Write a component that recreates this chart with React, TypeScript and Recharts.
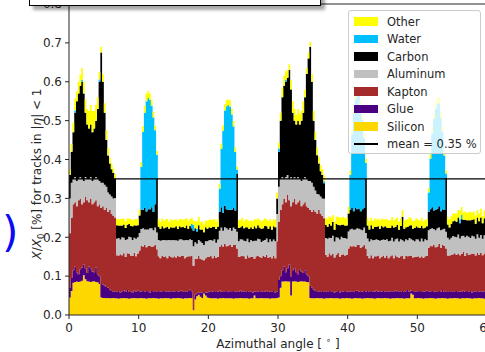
import { AreaChart, Area, XAxis, YAxis, ReferenceLine } from 'recharts'

// material budget per 0.25 degree bin, X/X0 in %, each array holds one layer's thickness
const BIN_WIDTH = 0.25
const X_TICKS = [0, 10, 20, 30, 40, 50, 60]
const Y_TICKS = [0, 0.1, 0.2, 0.3, 0.4, 0.5, 0.6, 0.7, 0.8]
const MEAN = 0.35

const SILICON = [
  0.045, 0.062, 0.083, 0.085, 0.086, 0.085, 0.086, 0.088, 0.102, 0.092, 0.087, 0.086, 0.085, 0.086, 0.087, 0.085, 0.084, 0.080, 0.045, 0.044,
  0.044, 0.043, 0.044, 0.043, 0.043, 0.044, 0.043, 0.043, 0.042, 0.043, 0.043, 0.044, 0.043, 0.043, 0.042, 0.043, 0.043, 0.044, 0.043, 0.043,
  0.043, 0.044, 0.043, 0.043, 0.042, 0.043, 0.043, 0.043, 0.044, 0.043, 0.043, 0.042, 0.043, 0.043, 0.043, 0.044, 0.043, 0.043, 0.042, 0.043,
  0.043, 0.043, 0.044, 0.043, 0.043, 0.042, 0.043, 0.043, 0.043, 0.044, 0.043, 0.012, 0.040, 0.048, 0.052, 0.047, 0.044, 0.055, 0.050, 0.045,
  0.044, 0.043, 0.043, 0.043, 0.043, 0.042, 0.043, 0.043, 0.044, 0.043, 0.043, 0.043, 0.043, 0.043, 0.042, 0.043, 0.043, 0.043, 0.044, 0.043,
  0.043, 0.043, 0.043, 0.042, 0.043, 0.043, 0.050, 0.043, 0.043, 0.043, 0.044, 0.043, 0.043, 0.043, 0.043, 0.042, 0.043, 0.043, 0.043, 0.044,
  0.045, 0.070, 0.086, 0.086, 0.087, 0.086, 0.086, 0.050, 0.086, 0.087, 0.086, 0.085, 0.086, 0.087, 0.086, 0.086, 0.085, 0.084, 0.044, 0.043,
  0.043, 0.043, 0.044, 0.043, 0.043, 0.043, 0.042, 0.043, 0.043, 0.043, 0.044, 0.043, 0.043, 0.043, 0.043, 0.042, 0.043, 0.043, 0.043, 0.044,
  0.043, 0.043, 0.042, 0.043, 0.044, 0.043, 0.043, 0.043, 0.042, 0.043, 0.043, 0.044, 0.043, 0.043, 0.043, 0.042, 0.043, 0.044, 0.043, 0.043,
  0.043, 0.044, 0.043, 0.043, 0.042, 0.043, 0.043, 0.043, 0.044, 0.043, 0.043, 0.043, 0.042, 0.043, 0.043, 0.043, 0.055, 0.052, 0.043, 0.043,
  0.044, 0.043, 0.043, 0.042, 0.043, 0.043, 0.043, 0.044, 0.043, 0.043, 0.042, 0.043, 0.043, 0.043, 0.044, 0.043, 0.043, 0.042, 0.043, 0.043,
  0.043, 0.044, 0.043, 0.043, 0.042, 0.043, 0.043, 0.043, 0.044, 0.043, 0.043, 0.042, 0.043, 0.043, 0.043, 0.044, 0.043, 0.043, 0.042, 0.043,
]

const GLUE = [
  0.025, 0.033, 0.032, 0.040, 0.024, 0.020, 0.032, 0.034, 0.028, 0.028, 0.021, 0.039, 0.035, 0.026, 0.023, 0.037, 0.021, 0.020, 0.035, 0.034,
  0.032, 0.029, 0.026, 0.022, 0.019, 0.016, 0.018, 0.017, 0.020, 0.015, 0.018, 0.019, 0.016, 0.021, 0.017, 0.018, 0.015, 0.019, 0.017, 0.020,
  0.018, 0.016, 0.019, 0.017, 0.020, 0.018, 0.015, 0.019, 0.017, 0.018, 0.016, 0.020, 0.017, 0.018, 0.019, 0.016, 0.018, 0.017, 0.019, 0.018,
  0.017, 0.019, 0.016, 0.018, 0.020, 0.017, 0.018, 0.016, 0.019, 0.021, 0.018, 0.000, 0.012, 0.008, 0.006, 0.010, 0.014, 0.004, 0.008, 0.013,
  0.016, 0.018, 0.017, 0.019, 0.016, 0.018, 0.020, 0.017, 0.015, 0.018, 0.019, 0.017, 0.016, 0.018, 0.020, 0.017, 0.018, 0.016, 0.019, 0.017,
  0.018, 0.016, 0.019, 0.017, 0.018, 0.015, 0.010, 0.018, 0.017, 0.019, 0.016, 0.018, 0.017, 0.020, 0.016, 0.018, 0.017, 0.019, 0.015, 0.016,
  0.045, 0.030, 0.029, 0.039, 0.023, 0.034, 0.044, 0.050, 0.029, 0.033, 0.024, 0.020, 0.032, 0.025, 0.022, 0.029, 0.020, 0.016, 0.031, 0.027,
  0.022, 0.019, 0.017, 0.018, 0.016, 0.019, 0.017, 0.018, 0.016, 0.019, 0.017, 0.018, 0.015, 0.017, 0.019, 0.016, 0.018, 0.017, 0.019, 0.016,
  0.018, 0.017, 0.019, 0.016, 0.018, 0.020, 0.017, 0.016, 0.018, 0.019, 0.017, 0.018, 0.016, 0.019, 0.017, 0.018, 0.020, 0.016, 0.018, 0.017,
  0.019, 0.016, 0.018, 0.017, 0.019, 0.018, 0.016, 0.020, 0.017, 0.018, 0.016, 0.019, 0.017, 0.018, 0.021, 0.017, 0.008, 0.010, 0.016, 0.018,
  0.017, 0.019, 0.016, 0.018, 0.017, 0.020, 0.018, 0.016, 0.019, 0.017, 0.018, 0.016, 0.019, 0.017, 0.020, 0.016, 0.018, 0.017, 0.019, 0.016,
  0.018, 0.017, 0.019, 0.016, 0.018, 0.017, 0.020, 0.016, 0.018, 0.017, 0.019, 0.016, 0.018, 0.017, 0.019, 0.016, 0.018, 0.017, 0.019, 0.016,
]

const KAPTON = [
  0.140, 0.155, 0.170, 0.165, 0.170, 0.190, 0.182, 0.163, 0.160, 0.185, 0.187, 0.165, 0.180, 0.173, 0.180, 0.173, 0.175, 0.185, 0.195, 0.202,
  0.194, 0.203, 0.195, 0.205, 0.198, 0.195, 0.190, 0.094, 0.091, 0.098, 0.093, 0.096, 0.090, 0.095, 0.099, 0.092, 0.094, 0.097, 0.091, 0.095,
  0.105, 0.118, 0.114, 0.120, 0.112, 0.117, 0.121, 0.113, 0.116, 0.119, 0.110, 0.089, 0.086, 0.092, 0.087, 0.091, 0.085, 0.093, 0.088, 0.087,
  0.091, 0.086, 0.092, 0.088, 0.090, 0.093, 0.085, 0.091, 0.089, 0.086, 0.092, 0.115, 0.092, 0.089, 0.094, 0.087, 0.085, 0.082, 0.088, 0.091,
  0.089, 0.092, 0.086, 0.091, 0.088, 0.090, 0.112, 0.120, 0.117, 0.122, 0.115, 0.119, 0.121, 0.114, 0.118, 0.120, 0.110, 0.091, 0.088, 0.092,
  0.090, 0.086, 0.092, 0.089, 0.088, 0.091, 0.085, 0.090, 0.093, 0.088, 0.087, 0.091, 0.089, 0.092, 0.088, 0.090, 0.086, 0.091, 0.088, 0.130,
  0.150, 0.170, 0.170, 0.175, 0.180, 0.190, 0.165, 0.180, 0.175, 0.180, 0.175, 0.185, 0.177, 0.168, 0.177, 0.175, 0.175, 0.175, 0.195, 0.195,
  0.205, 0.203, 0.200, 0.209, 0.201, 0.193, 0.190, 0.094, 0.091, 0.097, 0.093, 0.096, 0.090, 0.095, 0.098, 0.092, 0.094, 0.096, 0.091, 0.095,
  0.110, 0.118, 0.115, 0.120, 0.113, 0.117, 0.121, 0.114, 0.116, 0.119, 0.111, 0.090, 0.087, 0.092, 0.086, 0.091, 0.088, 0.093, 0.085, 0.090,
  0.091, 0.087, 0.092, 0.086, 0.090, 0.093, 0.087, 0.091, 0.089, 0.086, 0.092, 0.090, 0.085, 0.091, 0.087, 0.092, 0.090, 0.086, 0.091, 0.089,
  0.090, 0.086, 0.092, 0.087, 0.091, 0.089, 0.112, 0.118, 0.115, 0.120, 0.114, 0.117, 0.121, 0.113, 0.116, 0.119, 0.110, 0.094, 0.091, 0.096,
  0.095, 0.098, 0.093, 0.099, 0.094, 0.097, 0.100, 0.093, 0.098, 0.095, 0.094, 0.099, 0.096, 0.093, 0.098, 0.095, 0.099, 0.094, 0.097, 0.093,
]

const ALUMINUM = [
  0.090, 0.090, 0.065, 0.065, 0.065, 0.055, 0.055, 0.065, 0.055, 0.050, 0.055, 0.060, 0.055, 0.060, 0.060, 0.060, 0.070, 0.060, 0.065, 0.060,
  0.065, 0.055, 0.050, 0.040, 0.045, 0.045, 0.050, 0.042, 0.045, 0.038, 0.046, 0.040, 0.044, 0.036, 0.043, 0.047, 0.041, 0.039, 0.045, 0.042,
  0.045, 0.043, 0.047, 0.040, 0.046, 0.042, 0.044, 0.048, 0.041, 0.045, 0.043, 0.042, 0.045, 0.039, 0.044, 0.041, 0.046, 0.040, 0.043, 0.045,
  0.041, 0.044, 0.039, 0.045, 0.042, 0.040, 0.046, 0.043, 0.041, 0.044, 0.040, 0.050, 0.043, 0.038, 0.041, 0.045, 0.042, 0.039, 0.044, 0.041,
  0.043, 0.040, 0.045, 0.042, 0.039, 0.044, 0.042, 0.045, 0.041, 0.043, 0.046, 0.040, 0.044, 0.042, 0.045, 0.041, 0.043, 0.040, 0.044, 0.042,
  0.040, 0.045, 0.042, 0.039, 0.044, 0.041, 0.046, 0.040, 0.043, 0.045, 0.041, 0.039, 0.044, 0.042, 0.040, 0.045, 0.043, 0.041, 0.044, 0.070,
  0.090, 0.080, 0.070, 0.050, 0.065, 0.050, 0.055, 0.075, 0.060, 0.055, 0.065, 0.065, 0.055, 0.065, 0.065, 0.065, 0.070, 0.070, 0.075, 0.075,
  0.060, 0.055, 0.050, 0.040, 0.045, 0.045, 0.050, 0.043, 0.046, 0.040, 0.044, 0.047, 0.041, 0.045, 0.039, 0.044, 0.046, 0.042, 0.045, 0.041,
  0.044, 0.042, 0.046, 0.040, 0.045, 0.043, 0.041, 0.047, 0.042, 0.044, 0.040, 0.045, 0.043, 0.041, 0.046, 0.042, 0.044, 0.040, 0.045, 0.043,
  0.041, 0.046, 0.042, 0.044, 0.040, 0.045, 0.043, 0.041, 0.047, 0.042, 0.044, 0.040, 0.045, 0.043, 0.041, 0.046, 0.042, 0.044, 0.040, 0.045,
  0.043, 0.041, 0.046, 0.042, 0.044, 0.040, 0.045, 0.043, 0.046, 0.041, 0.044, 0.047, 0.042, 0.045, 0.040, 0.044, 0.043, 0.046, 0.041, 0.044,
  0.047, 0.042, 0.045, 0.049, 0.043, 0.046, 0.041, 0.048, 0.044, 0.046, 0.042, 0.047, 0.045, 0.043, 0.048, 0.044, 0.046, 0.042, 0.047, 0.045,
]

const CARBON = [
  0.060, 0.080, 0.120, 0.165, 0.205, 0.220, 0.235, 0.250, 0.225, 0.165, 0.140, 0.130, 0.135, 0.125, 0.130, 0.145, 0.180, 0.255, 0.335, 0.260,
  0.185, 0.120, 0.095, 0.080, 0.070, 0.065, 0.050, 0.035, 0.032, 0.036, 0.030, 0.034, 0.031, 0.037, 0.033, 0.029, 0.035, 0.032, 0.034, 0.031,
  0.045, 0.050, 0.048, 0.055, 0.046, 0.052, 0.049, 0.054, 0.047, 0.060, 0.140, 0.034, 0.031, 0.036, 0.030, 0.033, 0.035, 0.029, 0.034, 0.032,
  0.033, 0.036, 0.030, 0.034, 0.031, 0.035, 0.032, 0.037, 0.030, 0.034, 0.030, 0.040, 0.036, 0.032, 0.038, 0.031, 0.035, 0.033, 0.036, 0.032,
  0.034, 0.031, 0.036, 0.032, 0.035, 0.033, 0.048, 0.052, 0.046, 0.055, 0.049, 0.051, 0.047, 0.054, 0.050, 0.048, 0.150, 0.034, 0.031, 0.035,
  0.032, 0.036, 0.030, 0.034, 0.033, 0.031, 0.037, 0.032, 0.035, 0.030, 0.034, 0.032, 0.036, 0.031, 0.035, 0.033, 0.030, 0.034, 0.036, 0.040,
  0.090, 0.150, 0.205, 0.240, 0.245, 0.250, 0.280, 0.225, 0.170, 0.145, 0.140, 0.145, 0.140, 0.155, 0.170, 0.205, 0.270, 0.315, 0.345, 0.260,
  0.170, 0.130, 0.100, 0.080, 0.065, 0.060, 0.040, 0.034, 0.031, 0.036, 0.032, 0.035, 0.030, 0.034, 0.033, 0.037, 0.031, 0.035, 0.032, 0.034,
  0.046, 0.050, 0.053, 0.048, 0.055, 0.049, 0.052, 0.047, 0.054, 0.050, 0.140, 0.033, 0.031, 0.036, 0.030, 0.034, 0.032, 0.035, 0.031, 0.036,
  0.032, 0.035, 0.030, 0.034, 0.033, 0.031, 0.036, 0.032, 0.035, 0.030, 0.034, 0.060, 0.033, 0.031, 0.035, 0.032, 0.036, 0.030, 0.034, 0.033,
  0.031, 0.035, 0.032, 0.034, 0.030, 0.036, 0.047, 0.051, 0.054, 0.048, 0.053, 0.050, 0.055, 0.049, 0.052, 0.048, 0.140, 0.034, 0.031, 0.036,
  0.038, 0.042, 0.040, 0.044, 0.039, 0.043, 0.041, 0.045, 0.040, 0.043, 0.046, 0.041, 0.044, 0.039, 0.043, 0.042, 0.045, 0.040, 0.044, 0.041,
]

const WATER = [
  0, 0, 0, 0.006, 0, 0, 0, 0.005, 0, 0, 0, 0, 0, 0, 0, 0, 0, 0.006, 0, 0,
  0, 0, 0, 0, 0, 0, 0, 0, 0, 0, 0, 0, 0, 0, 0, 0, 0, 0, 0, 0,
  0, 0.110, 0.200, 0.245, 0.284, 0.286, 0.281, 0.261, 0.243, 0.190, 0.060, 0, 0, 0, 0, 0, 0, 0, 0, 0,
  0, 0, 0, 0, 0, 0, 0, 0, 0, 0, 0.012, 0.015, 0, 0.006, 0, 0, 0, 0, 0, 0,
  0, 0, 0, 0, 0, 0, 0.060, 0.150, 0.210, 0.245, 0.265, 0.270, 0.265, 0.245, 0.210, 0.150, 0.010, 0, 0, 0,
  0, 0, 0, 0, 0, 0, 0, 0, 0, 0, 0, 0, 0, 0, 0, 0, 0, 0, 0, 0,
  0.008, 0, 0, 0, 0.005, 0, 0, 0, 0, 0, 0, 0, 0, 0, 0, 0, 0, 0, 0, 0,
  0, 0, 0, 0, 0, 0, 0.005, 0, 0, 0, 0, 0, 0, 0, 0, 0, 0, 0, 0, 0,
  0, 0.090, 0.190, 0.250, 0.280, 0.295, 0.290, 0.270, 0.230, 0.180, 0.040, 0, 0, 0, 0, 0, 0, 0, 0, 0,
  0, 0, 0, 0, 0, 0, 0, 0, 0, 0, 0, 0, 0, 0, 0, 0, 0, 0, 0, 0,
  0, 0, 0, 0, 0, 0, 0.050, 0.130, 0.190, 0.235, 0.260, 0.270, 0.265, 0.240, 0.200, 0.140, 0.010, 0, 0, 0,
  0, 0, 0, 0, 0.010, 0.012, 0, 0, 0, 0, 0, 0, 0, 0, 0, 0, 0, 0, 0, 0,
]

const OTHER = [
  0.015, 0.020, 0.025, 0.030, 0.025, 0.030, 0.028, 0.030, 0.030, 0.035, 0.040, 0.045, 0.050, 0.055, 0.045, 0.040, 0.030, 0.020, 0.015, 0.020,
  0.025, 0.025, 0.020, 0.015, 0.015, 0.012, 0.012, 0.015, 0.017, 0.016, 0.018, 0.015, 0.017, 0.016, 0.014, 0.018, 0.016, 0.015, 0.017, 0.016,
  0.015, 0.012, 0.015, 0.018, 0.020, 0.018, 0.017, 0.015, 0.015, 0.012, 0.010, 0.020, 0.018, 0.020, 0.019, 0.021, 0.020, 0.018, 0.020, 0.019,
  0.020, 0.018, 0.021, 0.019, 0.020, 0.018, 0.022, 0.019, 0.020, 0.018, 0.015, 0.012, 0.018, 0.020, 0.022, 0.019, 0.021, 0.020, 0.018, 0.020,
  0.019, 0.021, 0.018, 0.020, 0.019, 0.020, 0.012, 0.014, 0.015, 0.016, 0.016, 0.015, 0.016, 0.015, 0.014, 0.013, 0.008, 0.020, 0.019, 0.021,
  0.018, 0.020, 0.019, 0.021, 0.018, 0.020, 0.019, 0.022, 0.018, 0.020, 0.019, 0.021, 0.020, 0.018, 0.020, 0.019, 0.021, 0.018, 0.020, 0.015,
  0.015, 0.020, 0.025, 0.025, 0.022, 0.020, 0.015, 0.025, 0.030, 0.030, 0.025, 0.030, 0.028, 0.025, 0.030, 0.020, 0.015, 0.015, 0.012, 0.020,
  0.025, 0.022, 0.020, 0.018, 0.016, 0.015, 0.015, 0.018, 0.020, 0.019, 0.021, 0.018, 0.020, 0.019, 0.021, 0.020, 0.018, 0.020, 0.019, 0.021,
  0.018, 0.012, 0.014, 0.016, 0.015, 0.015, 0.016, 0.015, 0.014, 0.013, 0.010, 0.020, 0.021, 0.019, 0.020, 0.022, 0.018, 0.020, 0.021, 0.019,
  0.020, 0.018, 0.021, 0.019, 0.020, 0.022, 0.018, 0.020, 0.019, 0.021, 0.020, 0.018, 0.021, 0.019, 0.020, 0.022, 0.018, 0.020, 0.019, 0.021,
  0.020, 0.019, 0.021, 0.018, 0.020, 0.019, 0.012, 0.014, 0.015, 0.015, 0.016, 0.015, 0.015, 0.016, 0.014, 0.013, 0.008, 0.020, 0.021, 0.019,
  0.020, 0.018, 0.021, 0.019, 0.022, 0.020, 0.018, 0.021, 0.019, 0.020, 0.022, 0.018, 0.020, 0.021, 0.019, 0.020, 0.022, 0.018, 0.020, 0.019,
]

// bottom to top, same order as the stack
const LAYERS = [
  { key: 'silicon', name: 'Silicon', color: '#FFD700', values: SILICON },
  { key: 'glue', name: 'Glue', color: '#4B0082', values: GLUE },
  { key: 'kapton', name: 'Kapton', color: '#A52A2A', values: KAPTON },
  { key: 'aluminum', name: 'Aluminum', color: '#C0C0C0', values: ALUMINUM },
  { key: 'carbon', name: 'Carbon', color: '#000000', values: CARBON },
  { key: 'water', name: 'Water', color: '#00BFFF', values: WATER },
  { key: 'other', name: 'Other', color: '#FFFF00', values: OTHER },
]

const FONT = '"DejaVu Sans", sans-serif'
const INK = '#262626'

// one row per bin edge; the last edge repeats the last bin so the step closes at 60
const data = Array.from({ length: SILICON.length + 1 }, (_, i) => {
  const j = Math.min(i, SILICON.length - 1)
  const row: Record<string, number> = { angle: i * BIN_WIDTH }
  LAYERS.forEach((l) => { row[l.key] = l.values[j] })
  return row
})

function Legend() {
  const rows = [...LAYERS].reverse()
  return (
    <div
      style={{
        position: 'absolute', left: 348, top: 10, width: 133, height: 144, boxSizing: 'border-box',
        border: '1px solid #cccccc', borderRadius: 3, background: 'rgba(255,255,255,0.8)',
      }}
    >
      {rows.map((l, i) => (
        <div key={l.key} style={{ position: 'absolute', left: 0, top: 10.5 + i * 17.5, width: '100%' }}>
          <div style={{ position: 'absolute', left: 5, top: -4.5, width: 24, height: 8.5, background: l.color }} />
          <div style={{ position: 'absolute', left: 38, top: -8, fontSize: 11.5, lineHeight: '16px', color: INK, whiteSpace: 'nowrap' }}>
            {l.name}
          </div>
        </div>
      ))}
      <div style={{ position: 'absolute', left: 0, top: 10.5 + rows.length * 17.5, width: '100%' }}>
        <div style={{ position: 'absolute', left: 5, top: -0.7, width: 24, height: 1.4, background: '#000' }} />
        <div style={{ position: 'absolute', left: 38, top: -8, fontSize: 11.5, lineHeight: '16px', color: INK, whiteSpace: 'nowrap' }}>
          mean = {MEAN} %
        </div>
      </div>
    </div>
  )
}

export default function App() {
  return (
    <div
      style={{
        position: 'absolute', left: 0, top: 0, width: 485, height: 352, overflow: 'hidden',
        background: '#fff', fontFamily: FONT,
      }}
    >
      <AreaChart width={500} height={352} data={data} margin={{ top: 4, right: 13, bottom: 0, left: 0 }}>
        <XAxis
          dataKey="angle"
          type="number"
          domain={[0, 60]}
          ticks={X_TICKS}
          interval={0}
          height={37}
          tickSize={4}
          tickMargin={4}
          stroke={INK}
          tick={{ fill: INK, fontSize: 12, fontFamily: FONT }}
        />
        <YAxis
          type="number"
          domain={[0, 0.8]}
          ticks={Y_TICKS}
          interval={0}
          width={69}
          tickSize={4}
          tickMargin={3}
          stroke={INK}
          tickFormatter={(v: number) => v.toFixed(1)}
          tick={{ fill: INK, fontSize: 12, fontFamily: FONT }}
        />
        {LAYERS.map((l) => (
          <Area
            key={l.key}
            dataKey={l.key}
            name={l.name}
            stackId="budget"
            type="stepAfter"
            fill={l.color}
            fillOpacity={1}
            stroke="none"
            isAnimationActive={false}
          />
        ))}
        <ReferenceLine y={MEAN} stroke="#000" strokeWidth={1.3} />
        <ReferenceLine y={0.8} stroke={INK} strokeWidth={1} />
      </AreaChart>

      <div
        style={{
          position: 'absolute', left: 38, top: 174, transform: 'translate(-50%, -50%) rotate(-90deg)',
          fontSize: 12, color: INK, whiteSpace: 'nowrap',
        }}
      >
        <i>X</i>/<i>X</i><sub style={{ fontSize: 8.5 }}>0</sub>{' '}[%] for tracks in |<i>η</i>| &lt; 1
      </div>
      <div
        style={{
          position: 'absolute', left: 278, top: 343, transform: 'translate(-50%, -50%)',
          fontSize: 12, color: INK, whiteSpace: 'nowrap',
        }}
      >
        Azimuthal angle [ <sup style={{ fontSize: 8.5 }}>∘</sup> ]
      </div>

      <Legend />

      <div
        style={{
          position: 'absolute', left: 29, top: -20, width: 292, height: 26, boxSizing: 'border-box',
          border: '1.5px solid #000', background: '#fff', boxShadow: '4px 4px 3px rgba(0,0,0,0.35)',
        }}
      />
      <div
        style={{
          position: 'absolute', left: -21, top: 212, fontSize: 42, lineHeight: '42px', color: '#0a0af5',
          whiteSpace: 'nowrap',
        }}
      >
        c)
      </div>
    </div>
  )
}
